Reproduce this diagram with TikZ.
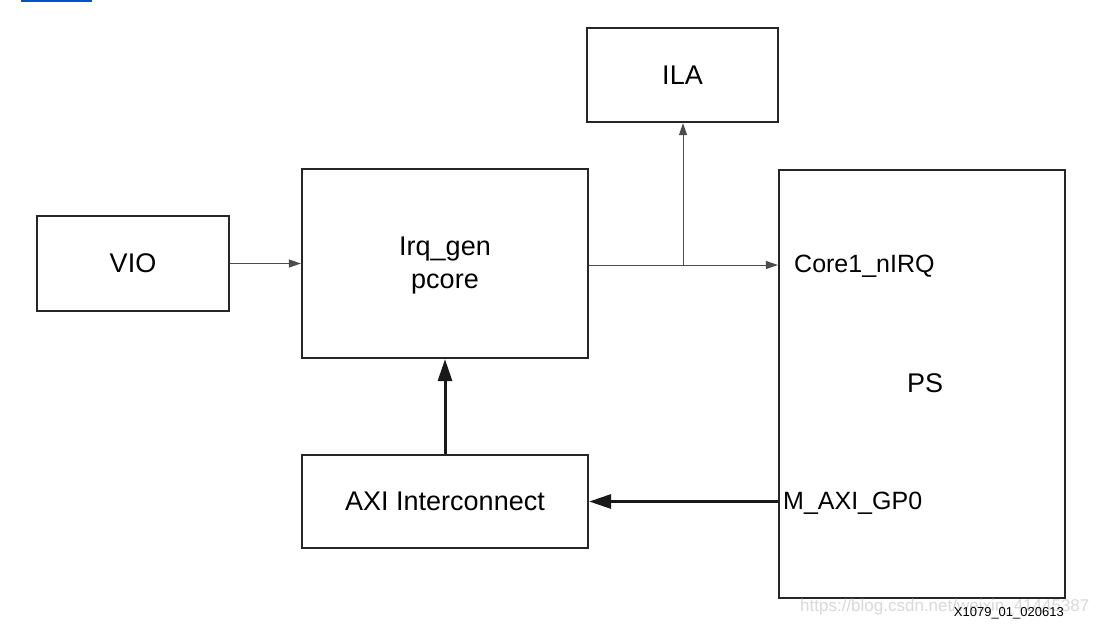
\documentclass[tikz,border=0pt]{standalone}
\usepackage{fontspec}
\setmainfont{Liberation Sans}
\usetikzlibrary{arrows.meta}
\begin{document}
\begin{tikzpicture}[x=1pt,y=-1pt,
  blk/.style={draw=black!85,line width=2.2pt,inner sep=0pt,font=\fontsize{27}{33}\selectfont},
  thinarrow/.style={draw=black!70,line width=1pt,-{Triangle[length=12pt,width=8pt]}},
  thickarrow/.style={draw=black!90,line width=3pt,-{Triangle[length=22pt,width=14pt]}},
  port/.style={anchor=west,inner sep=0pt,font=\fontsize{25}{30}\selectfont}]
\useasboundingbox (0,0) rectangle (1105,630);
\fill[white] (0,0) rectangle (1105,630);
\draw[blue!60!cyan!80!black,line width=2pt] (21,0.5) -- (92,0.5);
% boxes
\node[blk,minimum width=192pt,minimum height=95pt] (vio) at (133,263.5) {VIO};
\node[blk,minimum width=286pt,minimum height=189pt] (irq) at (445,263.5) {};
\node[font=\fontsize{27}{33}\selectfont,align=center] (irqlabel) at (445,266) {Irq\_gen\\pcore};
\node[blk,minimum width=191pt,minimum height=94pt] (ila) at (682.5,75) {ILA};
\node[blk,minimum width=286pt,minimum height=428pt] (ps) at (922,384) {};
\node[blk,minimum width=286pt,minimum height=93pt] (axi) at (445,501.5) {AXI Interconnect};
\node[font=\fontsize{27}{33}\selectfont] (pslabel) at (925,383) {PS};
\node[port] (core) at (794,266) {Core1\_nIRQ};
\node[port] (maxi) at (783,503) {M\_AXI\_GP0};
% connectors
\draw[thinarrow] (vio.east) -- (vio.east -| irq.west);
\coordinate (br) at (683,265);
\draw[thinarrow] (irq.east |- br) -- (ps.west |- br);
\draw[thinarrow] (br) -- (br |- ila.south);
\draw[thickarrow] (axi.north) -- (irq.south);
\draw[thickarrow] (ps.west |- axi.east) -- (axi.east);
% watermark and footnote
\node[text=black!15,font=\fontsize{17}{20}\selectfont,anchor=west,inner sep=0pt] (wm) at (800,607) {https://blog.csdn.net/weixin\_41445387};
\node[font=\fontsize{13}{16}\selectfont,anchor=east,inner sep=0pt] (fn) at (1064,613) {X1079\_01\_020613};
\end{tikzpicture}
\end{document}
